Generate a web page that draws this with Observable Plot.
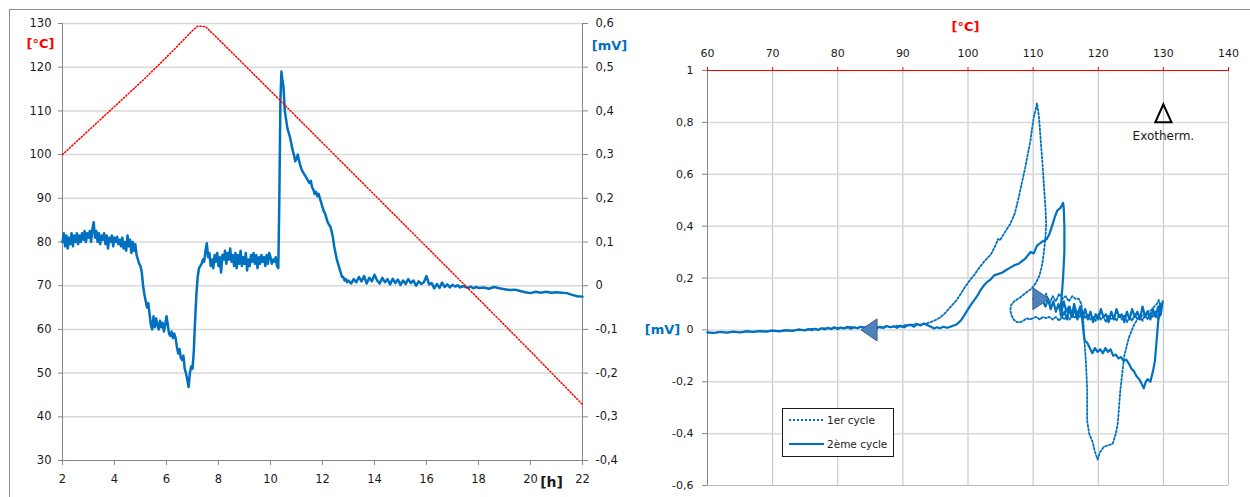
<!DOCTYPE html>
<html><head><meta charset="utf-8">
<script src="https://cdn.jsdelivr.net/npm/d3@7"></script>
<script src="https://cdn.jsdelivr.net/npm/@observablehq/plot@0.6"></script>
<style>
html,body{margin:0;padding:0;background:#fff;}
#wrap{position:relative;width:1250px;height:497px;overflow:hidden;font-family:"DejaVu Sans",sans-serif;}
#frame{position:absolute;left:9px;top:9px;width:1260px;height:520px;border-top:1px solid #8a8a8a;border-left:1px solid #8a8a8a;}
#wrap svg.panel{position:absolute;top:0;}
#legend{position:absolute;left:782px;top:408px;}
</style></head><body><div id="wrap"><div id="frame"></div></div>
<script>
// ---------- Left chart data ----------
const hourTicks = [2,4,6,8,10,12,14,16,18,20,22];
const tempTicks = [30,40,50,60,70,80,90,100,110,120,130];
const mvTicksLeft = [-0.4,-0.3,-0.2,-0.1,0,0.1,0.2,0.3,0.4,0.5,0.6];
// temperature program [h, °C]
const temperature = [[2,100],[3,105.5],[4,111],[5,116.5],[5.13,117.2],[6,122.3],[6.5,125.3],[7,128.4],[7.2,129.4],[7.5,129.3],[8,126.4],[10,114.6],[12,102.7],[14,90.8],[16,78.9],[18,67],[20,55],[22,42.8]];
// DTA signal [h, mV]
const signal = [[2,0.10],[2.05,0.12],[2.1,0.09],[2.15,0.115],[2.2,0.085],[2.25,0.11],[2.3,0.095],[2.35,0.12],[2.4,0.09],[2.45,0.115],[2.5,0.10],[2.55,0.12],[2.6,0.095],[2.65,0.115],[2.7,0.10],[2.75,0.12],[2.8,0.105],[2.85,0.125],[2.9,0.10],[2.95,0.12],[3,0.11],[3.05,0.125],[3.1,0.10],[3.15,0.13],[3.2,0.145],[3.25,0.11],[3.3,0.125],[3.35,0.10],[3.4,0.12],[3.45,0.095],[3.5,0.115],[3.55,0.105],[3.6,0.12],[3.65,0.095],[3.7,0.115],[3.75,0.085],[3.8,0.11],[3.85,0.10],[3.9,0.115],[3.95,0.09],[4,0.11],[4.05,0.10],[4.1,0.112],[4.15,0.095],[4.2,0.105],[4.25,0.09],[4.3,0.11],[4.35,0.085],[4.4,0.10],[4.45,0.08],[4.5,0.115],[4.55,0.09],[4.6,0.105],[4.65,0.075],[4.7,0.10],[4.75,0.08],[4.8,0.095],[4.85,0.07],[4.9,0.06],[4.95,0.05],[5,0.045],[5.05,0.03],[5.1,0.0],[5.15,-0.02],[5.2,-0.035],[5.25,-0.05],[5.3,-0.04],[5.35,-0.065],[5.4,-0.09],[5.45,-0.10],[5.5,-0.07],[5.55,-0.095],[5.6,-0.075],[5.65,-0.09],[5.7,-0.10],[5.75,-0.08],[5.8,-0.095],[5.85,-0.085],[5.9,-0.105],[5.95,-0.09],[6,-0.07],[6.05,-0.09],[6.1,-0.11],[6.15,-0.115],[6.2,-0.105],[6.25,-0.12],[6.3,-0.11],[6.35,-0.12],[6.4,-0.14],[6.45,-0.155],[6.5,-0.145],[6.55,-0.165],[6.6,-0.17],[6.65,-0.16],[6.7,-0.19],[6.75,-0.20],[6.8,-0.215],[6.85,-0.232],[6.9,-0.20],[6.95,-0.185],[7,-0.19],[7.05,-0.15],[7.1,-0.08],[7.15,-0.02],[7.2,0.02],[7.25,0.04],[7.3,0.045],[7.35,0.05],[7.4,0.06],[7.45,0.055],[7.5,0.08],[7.55,0.097],[7.6,0.065],[7.65,0.075],[7.7,0.045],[7.75,0.06],[7.8,0.04],[7.85,0.07],[7.9,0.055],[7.95,0.075],[8,0.045],[8.05,0.065],[8.1,0.03],[8.15,0.07],[8.2,0.06],[8.25,0.08],[8.3,0.05],[8.35,0.075],[8.4,0.06],[8.45,0.085],[8.5,0.055],[8.55,0.07],[8.6,0.045],[8.65,0.075],[8.7,0.04],[8.75,0.07],[8.8,0.05],[8.85,0.08],[8.9,0.045],[8.95,0.065],[9,0.05],[9.05,0.075],[9.1,0.035],[9.15,0.06],[9.2,0.045],[9.25,0.07],[9.3,0.055],[9.35,0.075],[9.4,0.05],[9.45,0.07],[9.5,0.04],[9.55,0.065],[9.6,0.05],[9.65,0.07],[9.7,0.055],[9.75,0.065],[9.8,0.045],[9.85,0.07],[9.9,0.05],[9.95,0.075],[10,0.065],[10.05,0.05],[10.1,0.06],[10.15,0.055],[10.2,0.065],[10.25,0.045],[10.3,0.04],[10.34,0.20],[10.38,0.42],[10.42,0.49],[10.46,0.47],[10.5,0.455],[10.55,0.40],[10.6,0.38],[10.65,0.36],[10.7,0.35],[10.75,0.34],[10.8,0.325],[10.85,0.31],[10.9,0.30],[10.95,0.285],[11,0.29],[11.05,0.30],[11.1,0.285],[11.15,0.275],[11.2,0.265],[11.25,0.26],[11.3,0.255],[11.35,0.25],[11.4,0.245],[11.45,0.24],[11.5,0.235],[11.55,0.24],[11.6,0.225],[11.65,0.22],[11.7,0.21],[11.75,0.215],[11.8,0.205],[11.85,0.21],[11.9,0.20],[11.95,0.19],[12,0.18],[12.05,0.17],[12.1,0.165],[12.15,0.155],[12.2,0.145],[12.25,0.14],[12.3,0.135],[12.35,0.125],[12.4,0.11],[12.45,0.09],[12.5,0.075],[12.55,0.06],[12.6,0.05],[12.65,0.04],[12.7,0.03],[12.75,0.02],[12.8,0.02],[12.85,0.012],[12.9,0.015],[12.95,0.008],[13,0.012],[13.1,0.005],[13.2,0.015],[13.3,0.008],[13.4,0.02],[13.5,0.01],[13.6,0.022],[13.7,0.005],[13.8,0.018],[13.9,0.01],[14,0.025],[14.1,0.012],[14.2,0.005],[14.3,0.018],[14.4,0.008],[14.5,0.015],[14.6,0.003],[14.7,0.016],[14.8,0.006],[14.9,0.014],[15,0.002],[15.1,0.012],[15.2,0.004],[15.3,0.015],[15.4,0.006],[15.5,0.012],[15.6,0.0],[15.7,0.01],[15.8,0.004],[15.9,0.008],[16,0.022],[16.1,0.003],[16.2,0.006],[16.3,-0.006],[16.4,0.004],[16.5,-0.005],[16.6,0.007],[16.7,-0.003],[16.8,0.003],[16.9,-0.004],[17,0.002],[17.1,-0.002],[17.2,0.001],[17.3,-0.004],[17.4,-0.001],[17.5,-0.003],[17.6,-0.005],[17.7,-0.002],[17.8,-0.006],[17.9,-0.003],[18,-0.005],[18.2,-0.004],[18.4,-0.007],[18.6,-0.003],[18.8,-0.006],[19,-0.008],[19.2,-0.01],[19.4,-0.009],[19.6,-0.012],[19.8,-0.015],[20,-0.017],[20.2,-0.014],[20.4,-0.016],[20.6,-0.014],[20.8,-0.016],[21,-0.015],[21.2,-0.016],[21.4,-0.017],[21.6,-0.021],[21.8,-0.024],[22,-0.025]];

// ---------- Right chart data ----------
const tempAxisTicks = [60,70,80,90,100,110,120,130,140];
const mvTicksRight = [-0.6,-0.4,-0.2,0,0.2,0.4,0.6,0.8,1];
// 1er cycle [°C, mV]
const cycle1 = [[110,0.12],[110.5,0.10],[111,0.13],[111.5,0.11],[112,0.14],[112.5,0.10],[113,0.13],[113.5,0.11],[114,0.14],[114.5,0.12],[115,0.13],[115.5,0.11],[116,0.13],[116.5,0.12],[117,0.12],[117.4,0.10],[117.7,0.04],[117.9,-0.05],[118.1,-0.12],[118.3,-0.23],[118.3,-0.35],[118.6,-0.40],[119.1,-0.43],[119.5,-0.47],[119.9,-0.50],[120.3,-0.47],[120.9,-0.45],[121.5,-0.445],[122.2,-0.44],[122.7,-0.40],[123,-0.36],[123.4,-0.23],[124,-0.10],[124.7,-0.03],[125.5,0.02],[126,0.04],[126.5,0.05],[127,0.06],[127.5,0.07],[128.1,0.075],[128.6,0.09],[129,0.10],[129.3,0.115],[129.6,0.09],
[129.6,0.06],[129.2,0.04],[128.8,0.07],[128.4,0.05],[128,0.065],[127.6,0.04],[127.2,0.06],[126.8,0.035],[126.4,0.055],[126,0.04],[125.6,0.06],[125.2,0.035],[124.8,0.05],[124.4,0.03],[124,0.055],[123.6,0.04],[123.2,0.06],[122.8,0.035],[122.4,0.05],[122,0.04],[121.6,0.055],[121.2,0.03],[120.8,0.05],[120.4,0.04],[120,0.06],[119.6,0.035],[119.2,0.05],[118.8,0.04],[118.4,0.06],[118,0.045],[117.6,0.07],[117.2,0.05],[116.8,0.065],[116.4,0.045],[116,0.06],[115.6,0.04],[115.2,0.055],[114.8,0.04],[114.4,0.05],[114,0.035],[113.5,0.05],[113,0.04],[112.5,0.05],[112,0.045],[111.5,0.05],[111,0.04],[110.5,0.05],[110,0.045],[109.5,0.04],[109,0.045],[108.5,0.035],[108,0.03],[107.5,0.03],[107,0.04],[106.7,0.055],[106.5,0.075],[106.6,0.095],[107.1,0.11],[108,0.125],[109,0.145],[109.8,0.16],[110.4,0.18],[110.9,0.205],[111.2,0.23],[111.5,0.27],[111.7,0.31],[111.9,0.36],[112,0.41],[111.9,0.47],[111.7,0.54],[111.5,0.62],[111.2,0.72],[110.9,0.82],[110.6,0.874],[110.4,0.85],[110.1,0.82],[109.8,0.77],[109.6,0.73],[109.2,0.68],[108.8,0.627],[108.3,0.57],[107.8,0.512],[107.2,0.45],[106.5,0.409],[106,0.39],[105.5,0.37],[104.9,0.345],[104.6,0.35],[104.3,0.33],[103.5,0.29],[102.9,0.275],[102.4,0.261],[101.6,0.235],[100.9,0.21],[100.4,0.195],[99.9,0.178],[99.4,0.16],[98.9,0.139],[98.1,0.11],[97.3,0.088],[96.5,0.065],[95.8,0.049],[95,0.038],[94.3,0.03],[93.5,0.024],[92.7,0.02],[92,0.024],[91.2,0.016],[90.5,0.02],[89.8,0.012],[89,0.016],[88.2,0.01],[87.4,0.014],[86.6,0.008],[85.8,0.012],[85,0.006],[84,0.011],[83,0.007],[82,0.012],[81,0.005],[80,0.009],[79,0.003],[78,0.007],[77,0.001],[76,0.004],[75,-0.001],[74,0.002],[73,-0.003],[72,0],[71,-0.005],[70,-0.002],[69,-0.006],[68,-0.004],[67,-0.008],[66,-0.005],[65,-0.009],[64,-0.007],[63,-0.01],[62,-0.008],[61,-0.011],[60,-0.01]];
// 2ème cycle [°C, mV]
const cycle2 = [[111.5,0.11],[111.9,0.09],[112.3,0.12],[112.7,0.08],[113.1,0.11],[113.5,0.07],[113.9,0.10],[114.3,0.06],[114.7,0.11],[115.1,0.07],[115.5,0.09],[115.9,0.05],[116.3,0.10],[116.7,0.06],[117.1,0.08],[117.5,0.05],[117.7,0.0],[117.9,-0.04],[118.3,-0.05],[118.7,-0.07],[119.1,-0.09],[119.5,-0.07],[119.9,-0.085],[120.3,-0.075],[120.7,-0.09],[121.1,-0.07],[121.5,-0.085],[121.9,-0.075],[122.3,-0.10],[122.7,-0.095],[123.1,-0.11],[123.5,-0.105],[123.9,-0.12],[124.3,-0.115],[124.7,-0.13],[125.1,-0.15],[125.5,-0.16],[125.9,-0.18],[126.3,-0.19],[126.7,-0.21],[127,-0.225],[127.3,-0.20],[127.6,-0.19],[128,-0.20],[128.4,-0.16],[128.7,-0.12],[128.9,-0.06],[129.1,0.0],[129.3,0.06],[129.5,0.10],[129.7,0.08],[129.9,0.11],
[129.6,0.06],[129.2,0.09],[128.8,0.05],[128.4,0.08],[128,0.04],[127.6,0.07],[127.2,0.05],[126.8,0.09],[126.4,0.04],[126,0.07],[125.6,0.05],[125.2,0.08],[124.8,0.04],[124.4,0.07],[124,0.03],[123.6,0.06],[123.2,0.05],[122.8,0.08],[122.4,0.04],[122,0.07],[121.6,0.03],[121.2,0.06],[120.8,0.05],[120.4,0.08],[120,0.04],[119.6,0.06],[119.2,0.03],[118.8,0.07],[118.4,0.04],[118,0.08],[117.6,0.05],[117.2,0.09],[116.8,0.04],[116.4,0.08],[116,0.05],[115.6,0.09],[115.2,0.04],[114.8,0.07],[114.4,0.05],[114.2,0.06],[114.3,0.1],[114.6,0.2],[114.8,0.3],[114.8,0.4],[114.7,0.47],[114.6,0.49],[114.2,0.47],[113.7,0.46],[113.4,0.44],[112.9,0.40],[112.5,0.37],[112.1,0.35],[111.4,0.34],[110.6,0.325],[110.1,0.295],[109.6,0.30],[108.8,0.275],[107.8,0.255],[107.2,0.25],[106.5,0.24],[105.8,0.23],[105.2,0.22],[104.6,0.215],[104,0.21],[103.5,0.195],[102.9,0.184],[102.4,0.17],[101.9,0.152],[101.4,0.13],[100.9,0.113],[100.4,0.095],[99.9,0.075],[99.4,0.055],[98.9,0.036],[98.3,0.022],[97.8,0.017],[97.3,0.012],[96.8,0.008],[96.2,0.012],[95.7,0.006],[95.2,0.01],[94.8,0.005],[94.3,0.012],[93.8,0.018],[93.2,0.025],[92.7,0.017],[92.2,0.022],[91.7,0.012],[91.2,0.02],[90.7,0.017],[90.2,0.01],[89.6,0.016],[89.1,0.008],[88.6,0.014],[88.1,0.01],[87.5,0.015],[87,0.007],[86.5,0.012],[86,0.006],[85.5,0.011],[85,0.005],[84.5,0.013],[84,0.008],[83.5,0.012],[83,0.006],[82.5,0.01],[82,0.004],[81.5,0.012],[81,0.006],[80.5,0.009],[80,0.003],[79.5,0.01],[79,0.004],[78.5,0.008],[78,0.002],[77.5,0.006],[77,0],[76.5,0.004],[76,-0.001],[75.5,0.003],[75,-0.002],[74,0.001],[73,-0.004],[72,-0.002],[71,-0.006],[70,-0.003],[69,-0.007],[68,-0.005],[67,-0.008],[66,-0.006],[65,-0.01],[64,-0.007],[63,-0.011],[62,-0.008],[61,-0.012],[60,-0.01]];
// annotations
const directionArrows = [{t:84.8, mv:0.0, dir:"left"},{t:111.2, mv:0.12, dir:"right"}];
const exotherm = [{t:130, mv:0.835, label:"Exotherm."}];
const legendItems = [{label:"1er cycle", dash:"2,2"},{label:"2ème cycle", dash:null}];

// ---------- helpers ----------
const fmt = v => { let r = Math.round(v*10)/10; if (Object.is(r,-0)) r = 0; return String(r).replace(".", ","); };
const blue = "#0070c0", red = "#ff0000", axisGray = "#868686", gridGray = "#d9d9d9";
const triSym = dir => ({draw(ctx, size){ const r = Math.sqrt(size/Math.PI);
  if (dir==="right"){ ctx.moveTo(-0.73*r,-r); ctx.lineTo(0.73*r,0); ctx.lineTo(-0.73*r,r); }
  else if (dir==="left"){ ctx.moveTo(0.73*r,-r); ctx.lineTo(-0.73*r,0); ctx.lineTo(0.73*r,r); }
  else { ctx.moveTo(0,-r); ctx.lineTo(0.9*r,r); ctx.lineTo(-0.9*r,r); }
  ctx.closePath(); }});
const font = '"DejaVu Sans", sans-serif';
const wrap = document.getElementById("wrap");
const lbl = {textAnchor: "middle", lineAnchor: "middle", fontWeight: "bold", fontSize: 13};

// ---------- Left chart ----------
const left = Plot.plot({
  width: 640, height: 497, marginLeft: 62, marginRight: 58, marginTop: 23, marginBottom: 37,
  x: {domain: [2, 22]}, y: {domain: [30, 130]},
  style: {fontFamily: font, fontSize: "11.5px", color: "#1a1a1a", background: "transparent", overflow: "visible"},
  marks: [
    Plot.ruleY(tempTicks.filter(d => d > 30), {stroke: gridGray, strokeWidth: 1.5}),
    Plot.ruleY([30], {stroke: axisGray}),
    Plot.ruleX([2], {stroke: axisGray}),
    Plot.ruleX([22], {stroke: axisGray}),
    Plot.axisY(tempTicks, {anchor: "left", tickSize: 4, tickPadding: 7, stroke: axisGray, fill: "#1a1a1a", label: null}),
    Plot.axisY(tempTicks, {anchor: "right", tickSize: 5, tickPadding: 8, stroke: axisGray, fill: "#1a1a1a", label: null, tickFormat: d => fmt((d - 70) / 100)}),
    Plot.axisX(hourTicks, {anchor: "bottom", tickSize: 5, tickPadding: 9, stroke: axisGray, fill: "#1a1a1a", label: null}),
    Plot.line(signal, {x: d => d[0], y: d => 70 + d[1] * 100, stroke: blue, strokeWidth: 2.5, curve: "linear"}),
    Plot.line(temperature, {x: d => d[0], y: d => d[1], stroke: red, strokeWidth: 1.5, strokeDasharray: "1.2,2"}),
    Plot.text(["[°C]"], {...lbl, frameAnchor: "top-left", dx: -22, dy: 20, fill: red}),
    Plot.text(["[mV]"], {...lbl, frameAnchor: "top-right", dx: 27, dy: 22, fill: blue}),
    Plot.text(["[h]"], {...lbl, frameAnchor: "bottom-right", dx: -31, dy: 22, fill: "#1a1a1a", fontSize: 14})
  ]
});
left.classList.add("panel"); left.style.left = "0px";
wrap.appendChild(left);

// ---------- Right chart ----------
const right = Plot.plot({
  width: 625, height: 497, marginLeft: 82, marginRight: 22, marginTop: 70, marginBottom: 12,
  x: {domain: [60, 140]}, y: {domain: [-0.6, 1]},
  style: {fontFamily: font, fontSize: "11px", color: "#1a1a1a", background: "transparent", overflow: "visible"},
  marks: [
    Plot.ruleX(tempAxisTicks.filter(d => d > 60), {stroke: "#bfbfbf"}),
    Plot.ruleY(mvTicksRight.filter(d => d > -0.6 && d < 1), {stroke: gridGray, strokeWidth: 1.5}),
    Plot.ruleY([-0.6], {stroke: "#bfbfbf"}),
    Plot.ruleX([60], {stroke: axisGray}),
    Plot.ruleY([1], {stroke: red}),
    Plot.axisX(tempAxisTicks, {anchor: "top", tickSize: 4, tickPadding: 10, stroke: red, fill: "#1a1a1a", label: null}),
    Plot.axisY(mvTicksRight, {anchor: "left", tickSize: 5, tickPadding: 9, stroke: axisGray, fill: "#1a1a1a", label: null, tickFormat: fmt}),
    Plot.line(cycle1, {x: d => d[0], y: d => d[1], stroke: blue, strokeWidth: 1.8, strokeDasharray: "2,2"}),
    Plot.line(cycle2, {x: d => d[0], y: d => d[1], stroke: blue, strokeWidth: 2.2}),
    Plot.dot(directionArrows.filter(d => d.dir === "left"), {x: "t", y: "mv", r: 11, symbol: triSym("left"), fill: "#4f81bd", stroke: "#385d8a", strokeWidth: 1}),
    Plot.dot(directionArrows.filter(d => d.dir === "right"), {x: "t", y: "mv", r: 11, symbol: triSym("right"), fill: "#4f81bd", stroke: "#385d8a", strokeWidth: 1}),
    Plot.dot(exotherm, {x: "t", y: "mv", r: 9, symbol: triSym("up"), fill: "none", stroke: "#000", strokeWidth: 2}),
    Plot.text(exotherm, {x: "t", y: "mv", text: "label", dy: 23, fill: "#1a1a1a", fontSize: 12}),
    Plot.text(["[°C]"], {...lbl, frameAnchor: "top-left", dx: 258, dy: -44, fill: red}),
    Plot.text(["[mV]"], {...lbl, y: () => 0, frameAnchor: "left", dx: -45, fill: blue})
  ]
});
right.classList.add("panel"); right.style.left = "625px";
wrap.appendChild(right);

// ---------- Legend ----------
const ns = "http://www.w3.org/2000/svg";
const lg = document.createElementNS(ns, "svg");
lg.setAttribute("id", "legend"); lg.setAttribute("width", 112); lg.setAttribute("height", 49);
lg.innerHTML = `<rect x="0.5" y="0.5" width="111" height="48" fill="#fff" stroke="#1a1a1a"/>` +
  legendItems.map((d, i) => {
    const y = 12 + i * 24;
    return `<line x1="7" x2="42" y1="${y}" y2="${y}" stroke="${blue}" stroke-width="${d.dash ? 1.8 : 2.2}" ${d.dash ? `stroke-dasharray="${d.dash}"` : ""}/>` +
      `<text x="45" y="${y}" dy="0.35em" font-family='${font}' font-size="10.5" fill="#1a1a1a">${d.label}</text>`;
  }).join("");
wrap.appendChild(lg);
</script>
</body></html>
